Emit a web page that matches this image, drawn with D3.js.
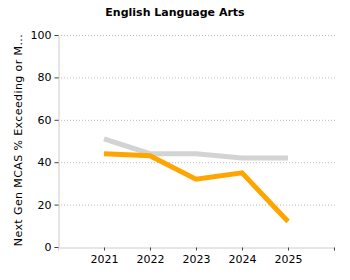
<!DOCTYPE html>
<html lang="en">
<head>
    <meta charset="UTF-8">
    <title>English Language Arts</title>
    <script src="https://cdn.jsdelivr.net/npm/d3@7/dist/d3.min.js"></script>
    <style>
        body { margin: 0; background: #fff; }
        text { font-family: "DejaVu Sans", Verdana, sans-serif; }
    </style>
</head>
<body>
<script>
    // data
    const years = [2021, 2022, 2023, 2024, 2025];
    const schoolValues = [44, 43, 32, 35, 12];
    const stateValues = [51, 44, 44, 42, 42];
    const yTicks = [0, 20, 40, 60, 80, 100];

    const width = 350;
    const height = 280;
    const margin = {top: 35, right: 14, bottom: 33, left: 58};

    const svg = d3.select('body')
        .append('svg')
        .attr('width', width)
        .attr('height', height);

    const x = d3.scaleLinear()
        .domain([2020, 2026])
        .range([margin.left, width - margin.right - 2]);

    const y = d3.scaleLinear()
        .domain([0, 100])
        .range([height - margin.bottom, margin.top]);

    // title
    svg.append('text')
        .attr('x', width / 2)
        .attr('y', 16)
        .attr('text-anchor', 'middle')
        .style('font-size', '11px')
        .style('font-weight', 'bold')
        .text('English Language Arts');

    // grid
    svg.append('g')
        .selectAll('line')
        .data(yTicks.filter(d => d > 0))
        .join('line')
        .attr('x1', margin.left)
        .attr('x2', width - margin.right)
        .attr('y1', d => y(d) + 0.5)
        .attr('y2', d => y(d) + 0.5)
        .attr('stroke', '#bbb')
        .attr('stroke-dasharray', '1,2');

    // y axis
    const yAxis = svg.append('g')
        .attr('transform', `translate(${margin.left + 0.5},0)`)
        .call(d3.axisLeft(y).tickValues(yTicks).tickSize(4).tickPadding(3));
    yAxis.select('.domain').attr('stroke', '#ccc');
    yAxis.selectAll('.tick line').attr('stroke', '#444');
    yAxis.selectAll('text').style('font-size', '11px').attr('fill', '#000');

    // x axis
    const xAxis = svg.append('g')
        .attr('transform', `translate(0,${height - margin.bottom + 0.5})`)
        .call(d3.axisBottom(x).tickValues(years.concat([2026])).tickFormat(d => d === 2026 ? '' : d).tickSize(3).tickPadding(5));
    xAxis.select('.domain').attr('stroke', '#ccc');
    xAxis.selectAll('.tick line').attr('stroke', '#444');
    xAxis.selectAll('text').style('font-size', '11px').attr('fill', '#000');

    // y label
    svg.append('text')
        .attr('transform', `translate(22, ${(margin.top + height - margin.bottom) / 2 - 1}) rotate(-90)`)
        .attr('text-anchor', 'middle')
        .style('font-size', '11px')
        .style('letter-spacing', '0.4px')
        .text('Next Gen MCAS % Exceeding or M...');

    const line = d3.line()
        .x((d, i) => x(years[i]))
        .y(d => y(d));

    svg.append('path')
        .datum(stateValues)
        .attr('d', line)
        .attr('fill', 'none')
        .attr('stroke', '#d3d3d3')
        .attr('stroke-width', 5);

    svg.append('path')
        .datum(schoolValues)
        .attr('d', line)
        .attr('fill', 'none')
        .attr('stroke', '#ffa500')
        .attr('stroke-width', 5);
</script>
</body>
</html>
